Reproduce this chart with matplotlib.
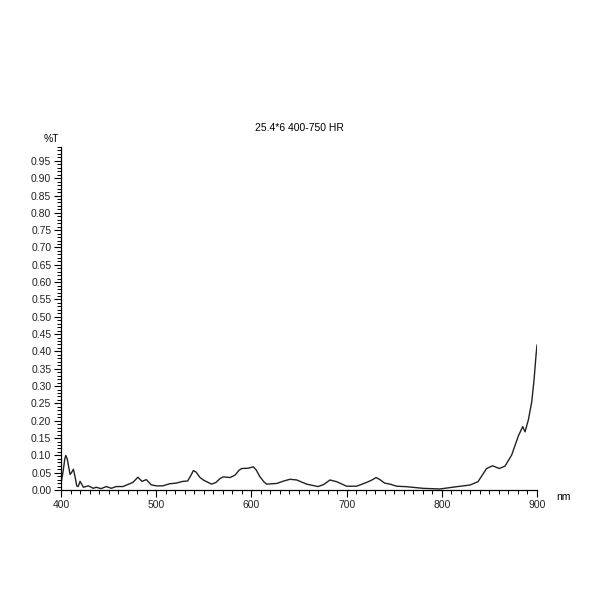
import matplotlib
matplotlib.use("Agg")
import matplotlib.pyplot as plt
from matplotlib.ticker import MultipleLocator, FormatStrFormatter

# wavelength (nm) and transmittance
wavelength = [400, 402, 404, 405, 406.5, 409.5, 411, 413, 415, 416.5, 418, 420, 423.5,
              428.6, 433.9, 437, 442, 447.6, 452.8, 458, 465, 472, 475.5, 480.8,
              485, 489.6, 494.8, 500, 507, 514, 521, 528, 533, 536, 539, 541.8,
              546, 550, 558.3, 562.8, 567, 570.5, 577.5, 582.8, 587, 589.8, 596.8,
              602, 605, 609, 613, 616, 626.6, 634, 640.5, 647.6, 658, 670, 676,
              682.5, 689.6, 700, 710.6, 721, 726, 731, 735, 740, 745.6, 752.6, 763,
              780.6, 798, 815.6, 829.6, 838, 843, 847, 853.4, 860.4, 866.4, 873.4,
              880.4, 885, 887.4, 890.9, 894.5, 896.9, 899, 900]
transmittance = [0.02, 0.05, 0.09, 0.10, 0.09, 0.045, 0.05, 0.06, 0.035, 0.012, 0.01,
                 0.025, 0.008, 0.012, 0.005, 0.008, 0.004, 0.010, 0.005, 0.010,
                 0.010, 0.018, 0.022, 0.037, 0.025, 0.030, 0.015, 0.012, 0.012,
                 0.018, 0.020, 0.025, 0.026, 0.040, 0.056, 0.052, 0.036, 0.028,
                 0.017, 0.022, 0.033, 0.038, 0.036, 0.043, 0.057, 0.062, 0.063,
                 0.067, 0.058, 0.038, 0.024, 0.017, 0.019, 0.026, 0.031, 0.029,
                 0.017, 0.010, 0.016, 0.029, 0.024, 0.011, 0.011, 0.022, 0.028,
                 0.036, 0.030, 0.020, 0.017, 0.011, 0.0096, 0.0048, 0.003, 0.0096,
                 0.0144, 0.024, 0.045, 0.062, 0.070, 0.062, 0.069, 0.101, 0.156,
                 0.183, 0.168, 0.202, 0.255, 0.318, 0.390, 0.418]

title = "25.4*6 400-750 HR"

plt.rcParams["font.family"] = ["Liberation Sans", "DejaVu Sans"]

fig = plt.figure(figsize=(6, 6), dpi=100)
ax = fig.add_axes([0.1017, 0.1833, 0.7933, 0.5717])

ax.plot(wavelength, transmittance, color="#222222", linewidth=1.0)

ax.set_xlim(400, 900)
ax.set_ylim(0, 0.99)

ax.xaxis.set_major_locator(MultipleLocator(100))
ax.xaxis.set_minor_locator(MultipleLocator(10))
ax.yaxis.set_major_locator(MultipleLocator(0.05))
ax.yaxis.set_minor_locator(MultipleLocator(0.01))
ax.yaxis.set_major_formatter(FormatStrFormatter("%.2f"))

for side in ("top", "right"):
    ax.spines[side].set_visible(False)
for side in ("left", "bottom"):
    ax.spines[side].set_linewidth(0.9)

ax.tick_params(axis="both", which="major", direction="out", length=5, width=0.8,
               labelsize=7.5, pad=2, labelcolor="#222222")
ax.tick_params(axis="both", which="minor", direction="out", length=3, width=0.7)

ax.text(-0.02, 1.01, "%T", transform=ax.transAxes, fontsize=7.5, ha="center", va="bottom")
ax.text(1.055, -0.02, "nm", transform=ax.transAxes, fontsize=7.5, ha="center", va="center")
ax.text(0.5, 1.04, title, transform=ax.transAxes, fontsize=7.5, ha="center", va="bottom")

fig.savefig("out.png", dpi=100)
